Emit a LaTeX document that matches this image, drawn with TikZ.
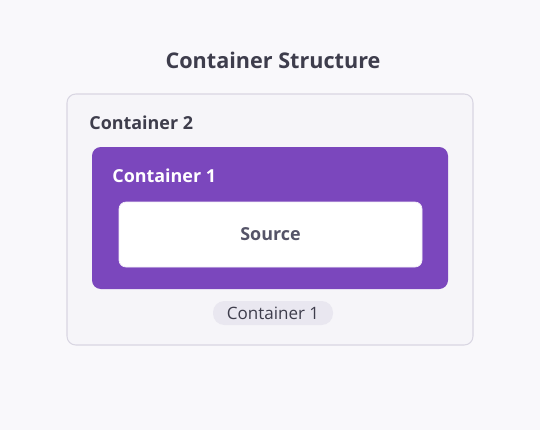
\documentclass[tikz,border=0pt]{standalone}
\usepackage{fontspec}
\setmainfont{Open Sans}
\usetikzlibrary{positioning}
\definecolor{pagebg}{HTML}{F9F8FB}
\definecolor{outerfill}{HTML}{F6F5F9}
\definecolor{outerline}{HTML}{D9D6E2}
\definecolor{purplebox}{HTML}{7B47BD}
\definecolor{inktext}{HTML}{3E3D4C}
\definecolor{srctext}{HTML}{555468}
\definecolor{pillfill}{HTML}{E9E7F0}
\tikzset{
  box/.style={rectangle, rounded corners=5, inner sep=0pt},
  outerbox/.style={box, draw=outerline, line width=0.6pt, fill=outerfill},
  innerbox/.style={box, fill=purplebox},
  srcbox/.style={box, rounded corners=4, fill=white, draw=white!90!purplebox, line width=0.4pt},
  pill/.style={rectangle, rounded corners=6.5, fill=pillfill, inner sep=0pt},
  label/.style={anchor=west, inner sep=0pt, font=\bfseries\fontsize{10.2}{12}\selectfont}
}
\begin{document}
\begin{tikzpicture}[x=0.02cm, y=-0.02cm]
  \fill[pagebg] (0,0) rectangle (540,430);
  \useasboundingbox (0,0) rectangle (540,430);

  \node[inner sep=0pt, text=inktext, font=\bfseries\fontsize{12.3}{15}\selectfont] (title) at (273,60) {Container Structure};

  % container 2 with its label
  \node[outerbox, minimum width=406*0.02cm, minimum height=251*0.02cm] (cont2) at (270,219.5) {};
  \node[label, text=inktext] (cont2lbl) at (89,123) {Container 2};

  % container 1 inside it
  \node[innerbox, minimum width=356*0.02cm, minimum height=142*0.02cm] (cont1) at (270,218) {};
  \node[label, text=white] (cont1lbl) at (112,176) {Container 1};

  \node[srcbox, minimum width=303*0.02cm, minimum height=65*0.02cm, text=srctext,
        font=\bfseries\fontsize{10.2}{12}\selectfont] (source) at (270.5,234.5) {Source};

  \node[pill, minimum width=120*0.02cm, minimum height=24*0.02cm, text=inktext,
        font=\fontsize{9.7}{11}\selectfont] (tag) at (273,313) {Container 1};
\end{tikzpicture}
\end{document}
